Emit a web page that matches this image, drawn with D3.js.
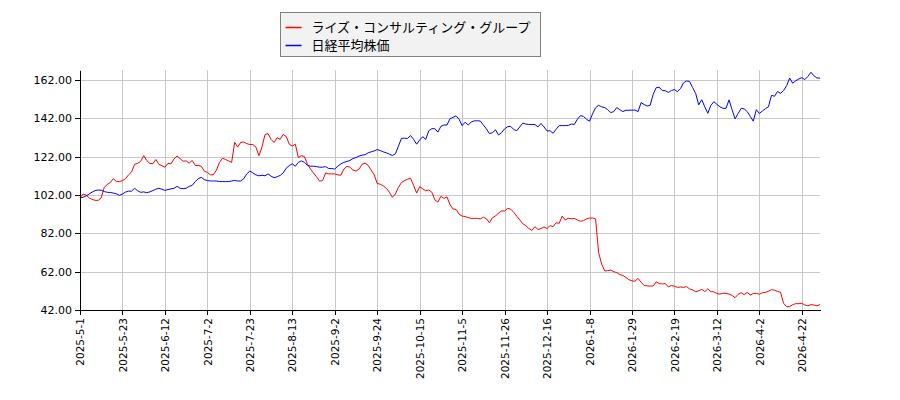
<!DOCTYPE html>
<html>
<head>
<meta charset="utf-8">
<title>ライズ・コンサルティング・グループ vs 日経平均株価 - D3.js</title>
<script src="https://d3js.org/d3.v7.min.js"></script>
<style>
body {
margin: 0;
background: #fff;
}

.line {
fill: none;
stroke-width: 1px;
}

.grid line {
stroke: #c8c8c8;
stroke-width: 1px;
shape-rendering: crispEdges;
}

.axis path,
.axis line {
stroke: #000;
shape-rendering: crispEdges;
}

.axis text {
font-family: "DejaVu Sans", sans-serif;
fill: #000;
}

.legend text {
font-family: "Noto Sans CJK JP", sans-serif;
font-size: 13px;
}
</style>
</head>
<body>
<svg width="900" height="400"></svg>

<script>
const seriesNames = ["ライズ・コンサルティング・グループ", "日経平均株価"];

// x tick labels, one every 14 trading days starting at index 0
const tickLabels = [
"2025-5-1", "2025-5-23", "2025-6-12", "2025-7-2", "2025-7-23", "2025-8-13",
"2025-9-2", "2025-9-24", "2025-10-15", "2025-11-5", "2025-11-26", "2025-12-16",
"2026-1-8", "2026-1-29", "2026-2-19", "2026-3-12", "2026-4-2", "2026-4-22"
];

const yTicks = [42, 62, 82, 102, 122, 142, 162];

// relative price (start = 100), one value per trading day
const rise = [
100.5,102.5,102,100.5,99.7,99.2,99.2,100.5,106,107.5,
108.5,110.5,109,109,109.5,110.5,112.5,114,118,118.5,
119.5,122.5,120,118.5,118.3,120.5,118,117.3,116.5,118.5,
118.2,120.8,122.3,121,119.6,119.8,118.6,120,117.4,117.4,
117,114.4,113.8,112.5,112.6,115,119,121.2,120.5,119.8,
119,129.5,127,129.5,129.6,128.8,128.3,128.3,127,122.5,
127,133.5,134,131,129.4,131.9,131,133.6,132.5,128.5,
127.5,128.5,121.5,122.5,122,118,115.5,113.5,111.5,109.2,
109.5,113.5,113,113,113,112.5,112.3,115.5,117,116.5,
115,114.5,115.5,118,118.6,117.5,115,112.5,108,107.6,
106.8,105.5,103.5,100.8,102.5,106,108.5,109.5,110.2,110.7,
107,103,106.3,105.2,104.2,104.6,103.5,99.5,98.3,101.3,
100.2,101,97,94.7,94.5,92,91,90.8,90.2,89.8,
89.8,89.8,89.5,90.4,89.6,87.5,90.2,91,92.6,93.7,
93.6,95,94.6,93,91,89,87,86,84.5,83.5,
85.5,84,84.5,85.3,84.5,86,85.5,87.5,87.2,91,
89,89.8,89.6,89.8,89,88.3,88.6,89.5,90,90,
89.5,72,66,62.4,62.5,62.8,62,61.5,60.5,60,
59,57.8,57.2,57,58.5,56.5,54.8,54.6,54.5,54.5,
56.7,55.8,55.6,55.8,54,54.8,54.4,53.8,54,53.8,
54.2,53,52.5,51.5,52,52.8,51.6,53,51.6,51.5,
50.6,50.3,50.7,50.7,50.3,49.6,48.4,50.2,51,50,
51.2,49.8,50.6,50.7,50.2,51,51.2,51.8,52.6,52.4,
51.7,51.2,45.5,43.7,43.8,44.8,45.3,45.3,45.5,44.6,
44.2,44.8,44.6,44.2,44.8
];

const nikkei = [
100.5,100.8,101.5,102.5,103.5,104.3,104.6,104.5,103.8,103.4,
103.3,103,102.6,101.8,102.5,103.5,104,104,105.5,104.2,
103.4,103.6,103.2,103.6,104.3,105,105.5,105,104.4,104.8,
105.2,105.5,106.5,105.5,105.3,105.5,106.5,107,109,110.5,
111.2,110,109.5,109.3,109.3,109.3,109,109,109,109,
109.3,109.6,109.3,109.3,110.5,113,114.5,113.5,112.5,112,
112.3,112,113,111.8,111,111.5,112.2,113.5,116,117.3,
118.3,117,119,119.8,119,117.5,117,117,116.8,116.5,
116.5,116.8,115.8,115.8,115.5,117,118.2,119,119.5,120,
121,121.5,122.3,122.8,123,124,124.5,125,125.7,125.2,
124.5,124,123.3,122.6,123.5,127.5,131.6,131.6,131.5,133,
131,128.5,130.7,132.4,131,135.5,136.6,136.6,134.8,137.8,
138.5,138.5,141.8,142.5,143.3,141.5,138.2,140,138.5,140,
140.7,140.7,140.6,138.5,136.5,134,134.5,136,133.3,134.5,
136.5,137.6,137.8,136.2,135.5,137.5,139.5,139,138.8,138.8,
138.8,137.5,139.3,137.5,135.4,135.5,134.2,136.3,138.2,138.2,
138.2,138.3,139,138.8,141.5,143.4,143,141.5,140.5,144.3,
147.5,148.8,148,147.6,146.5,145,145.5,147.6,146.5,145.5,
146.2,146.2,146.3,146.3,145.5,150.2,149.2,148.4,148.8,154.5,
158,158.2,156.5,156.4,155.5,156.5,157,155.9,157.5,160.5,
161.5,161.2,158,155,149,151.7,148,144.6,148.7,150.7,
149.3,148,147.2,147.2,151.6,146.5,141.7,144.5,147.2,146.9,
145.5,143,140.5,146.5,144.5,145.8,147,148,154,153.5,
156,155,156.5,159,163,160.3,161.6,162.5,163.2,162.2,
163.8,166,164.2,163,163
];

const colors = ["#ff0000", "#0000ff"];

const svg = d3.select("svg");
const margin = { top: 70, right: 80, bottom: 90, left: 80 };
const width = +svg.attr("width") - margin.left - margin.right;
const height = +svg.attr("height") - margin.top - margin.bottom;

const g = svg
.append("g")
.attr("transform", `translate(${margin.left},${margin.top})`);

const x = d3
.scaleLinear()
.domain([0, rise.length - 1])
.range([0, width]);

const y = d3
.scaleLinear()
.domain([42, 167.2])
.range([height, 0]);

const xTickPos = tickLabels.map((d, i) => i * 14);

// grid
g.append("g")
.attr("class", "grid")
.selectAll("line")
.data(xTickPos)
.enter()
.append("line")
.attr("x1", (d) => Math.round(x(d)) + 0.5)
.attr("x2", (d) => Math.round(x(d)) + 0.5)
.attr("y1", 0)
.attr("y2", height);

g.append("g")
.attr("class", "grid")
.selectAll("line")
.data(yTicks)
.enter()
.append("line")
.attr("x1", 0)
.attr("x2", width)
.attr("y1", (d) => Math.round(y(d)) + 0.5)
.attr("y2", (d) => Math.round(y(d)) + 0.5);

// lines
const line = (vals) =>
d3
.line()
.x((d, i) => x(i))
.y((d) => y(d))(vals);

g.append("path")
.attr("class", "line")
.attr("stroke", colors[0])
.attr("d", line(rise));

g.append("path")
.attr("class", "line")
.attr("stroke", colors[1])
.attr("d", line(nikkei));

// axes
const yAxis = d3
.axisLeft(y)
.tickValues(yTicks)
.tickFormat(d3.format(".2f"))
.tickSize(5)
.tickSizeOuter(0)
.tickPadding(3);

g.append("g")
.attr("class", "axis")
.call(yAxis)
.selectAll("text")
.style("font-size", "11px");

const xAxis = d3
.axisBottom(x)
.tickValues(xTickPos)
.tickFormat((d, i) => tickLabels[i])
.tickSize(5)
.tickSizeOuter(0);

g.append("g")
.attr("class", "axis")
.attr("transform", `translate(0,${height})`)
.call(xAxis)
.selectAll("text")
.style("font-size", "10.5px")
.attr("text-anchor", "end")
.attr("transform", "rotate(-90)")
.attr("x", -8)
.attr("y", 0)
.attr("dy", "0.35em");

// legend
const legend = svg
.append("g")
.attr("class", "legend")
.attr("transform", "translate(280.5,12.5)");

legend
.append("rect")
.attr("width", 260)
.attr("height", 44)
.attr("fill", "#f2f2f2")
.attr("stroke", "#808080");

seriesNames.forEach((name, i) => {
const row = legend.append("g").attr("transform", `translate(0,${15 + i * 18})`);
row
.append("line")
.attr("x1", 5)
.attr("x2", 21)
.attr("stroke", colors[i])
.attr("stroke-width", 1.5);
row
.append("text")
.attr("x", 31)
.attr("dy", "0.35em")
.text(name);
});
</script>
</body>
</html>
